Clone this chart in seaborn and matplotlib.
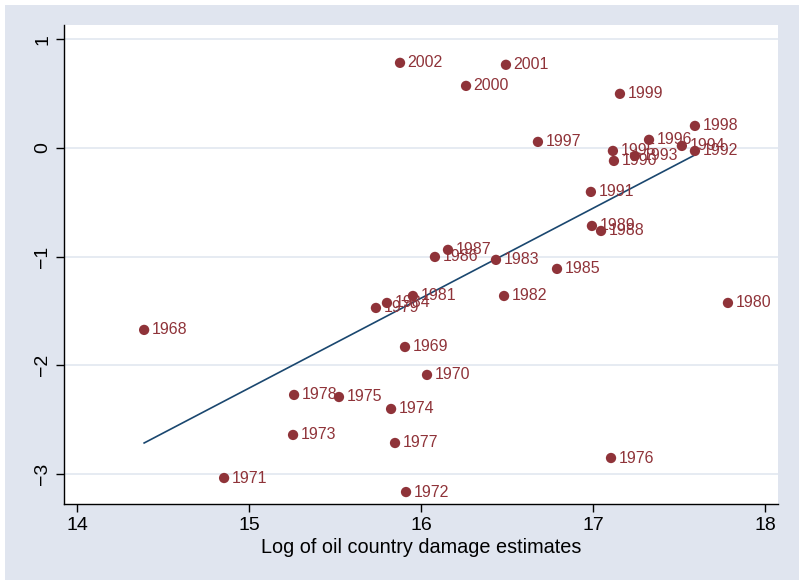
import matplotlib
matplotlib.use("Agg")
import matplotlib.pyplot as plt
import seaborn as sns
import pandas as pd
import numpy as np

years = [1968, 1969, 1970, 1971, 1972, 1973, 1974, 1975, 1976, 1977,
         1978, 1979, 1980, 1981, 1982, 1983, 1984, 1985, 1986, 1987,
         1988, 1989, 1990, 1991, 1992, 1993, 1994, 1995, 1996, 1997,
         1998, 1999, 2000, 2001, 2002]
log_damage = [14.39, 15.907, 16.035, 14.855, 15.913, 15.256, 15.826, 15.523, 17.105, 15.849,
              15.262, 15.738, 17.785, 15.953, 16.483, 16.436, 15.802, 16.791, 16.081, 16.157,
              17.047, 16.994, 17.122, 16.988, 17.593, 17.244, 17.517, 17.116, 17.326, 16.680,
              17.593, 17.157, 16.262, 16.494, 15.878]
outcome = [-1.674, -1.831, -2.088, -3.036, -3.165, -2.640, -2.401, -2.291, -2.852, -2.714,
           -2.272, -1.472, -1.426, -1.362, -1.362, -1.030, -1.426, -1.113, -1.003, -0.938,
           -0.764, -0.718, -0.120, -0.405, -0.028, -0.074, 0.018, -0.028, 0.074, 0.055,
           0.202, 0.497, 0.570, 0.764, 0.782]

# fitted line
fit_x = [14.39, 17.605]
fit_y = [-2.714, -0.055]

x_ticks = [14, 15, 16, 17, 18]
y_ticks = [-3, -2, -1, 0, 1]
x_label = "Log of oil country damage estimates"

df = pd.DataFrame({"year": years, "x": log_damage, "y": outcome})
fit_df = pd.DataFrame({"x": fit_x, "y": fit_y})

BG = "#E0E5EF"
MARK = "#8F3339"
LINE = "#1A476F"

plt.rcParams["font.family"] = ["Liberation Sans", "DejaVu Sans"]

fig = plt.figure(figsize=(8.01, 5.82), dpi=100)
fig.patch.set_facecolor("white")
fig.patches.append(matplotlib.patches.Rectangle((5 / 801, 2 / 582), 794 / 801, 575 / 582,
                                                transform=fig.transFigure, facecolor=BG,
                                                edgecolor="none", zorder=-10))
ax = fig.add_axes([64 / 801, (582 - 504) / 582, (778 - 64) / 801, (504 - 25) / 582])
ax.set_facecolor("white")

ax.set_xlim(13.924, 18.076)
ax.set_ylim(-3.275, 1.13)

for t in y_ticks:
    ax.axhline(t, color="#E2E7F0", lw=1.2, zorder=0)

sns.lineplot(data=fit_df, x="x", y="y", ax=ax, color=LINE, lw=1.2, zorder=2)
sns.scatterplot(data=df, x="x", y="y", ax=ax, color=MARK, s=55, edgecolor="none",
                zorder=3, legend=False)

for yr, xv, yv in zip(years, log_damage, outcome):
    ax.annotate(str(yr), (xv, yv), xytext=(5.5, 0), textcoords="offset points",
                va="center", ha="left", color=MARK, fontsize=11.5, zorder=4)

ax.set_xticks(x_ticks)
ax.set_yticks(y_ticks)
ax.set_xticklabels([str(t) for t in x_ticks], fontsize=14)
ax.set_yticklabels(["\u2212" + str(-t) if t < 0 else str(t) for t in y_ticks],
                   fontsize=14, rotation=90, va="center")
ax.tick_params(axis="both", direction="out", length=6, width=1, color="black", pad=3)
ax.set_xlabel(x_label, fontsize=14.3, labelpad=3)
ax.set_ylabel("")

for s in ["top", "right"]:
    ax.spines[s].set_visible(False)
for s in ["left", "bottom"]:
    ax.spines[s].set_color("black")
    ax.spines[s].set_linewidth(1)

fig.savefig("out.png", dpi=100, facecolor=fig.get_facecolor())
